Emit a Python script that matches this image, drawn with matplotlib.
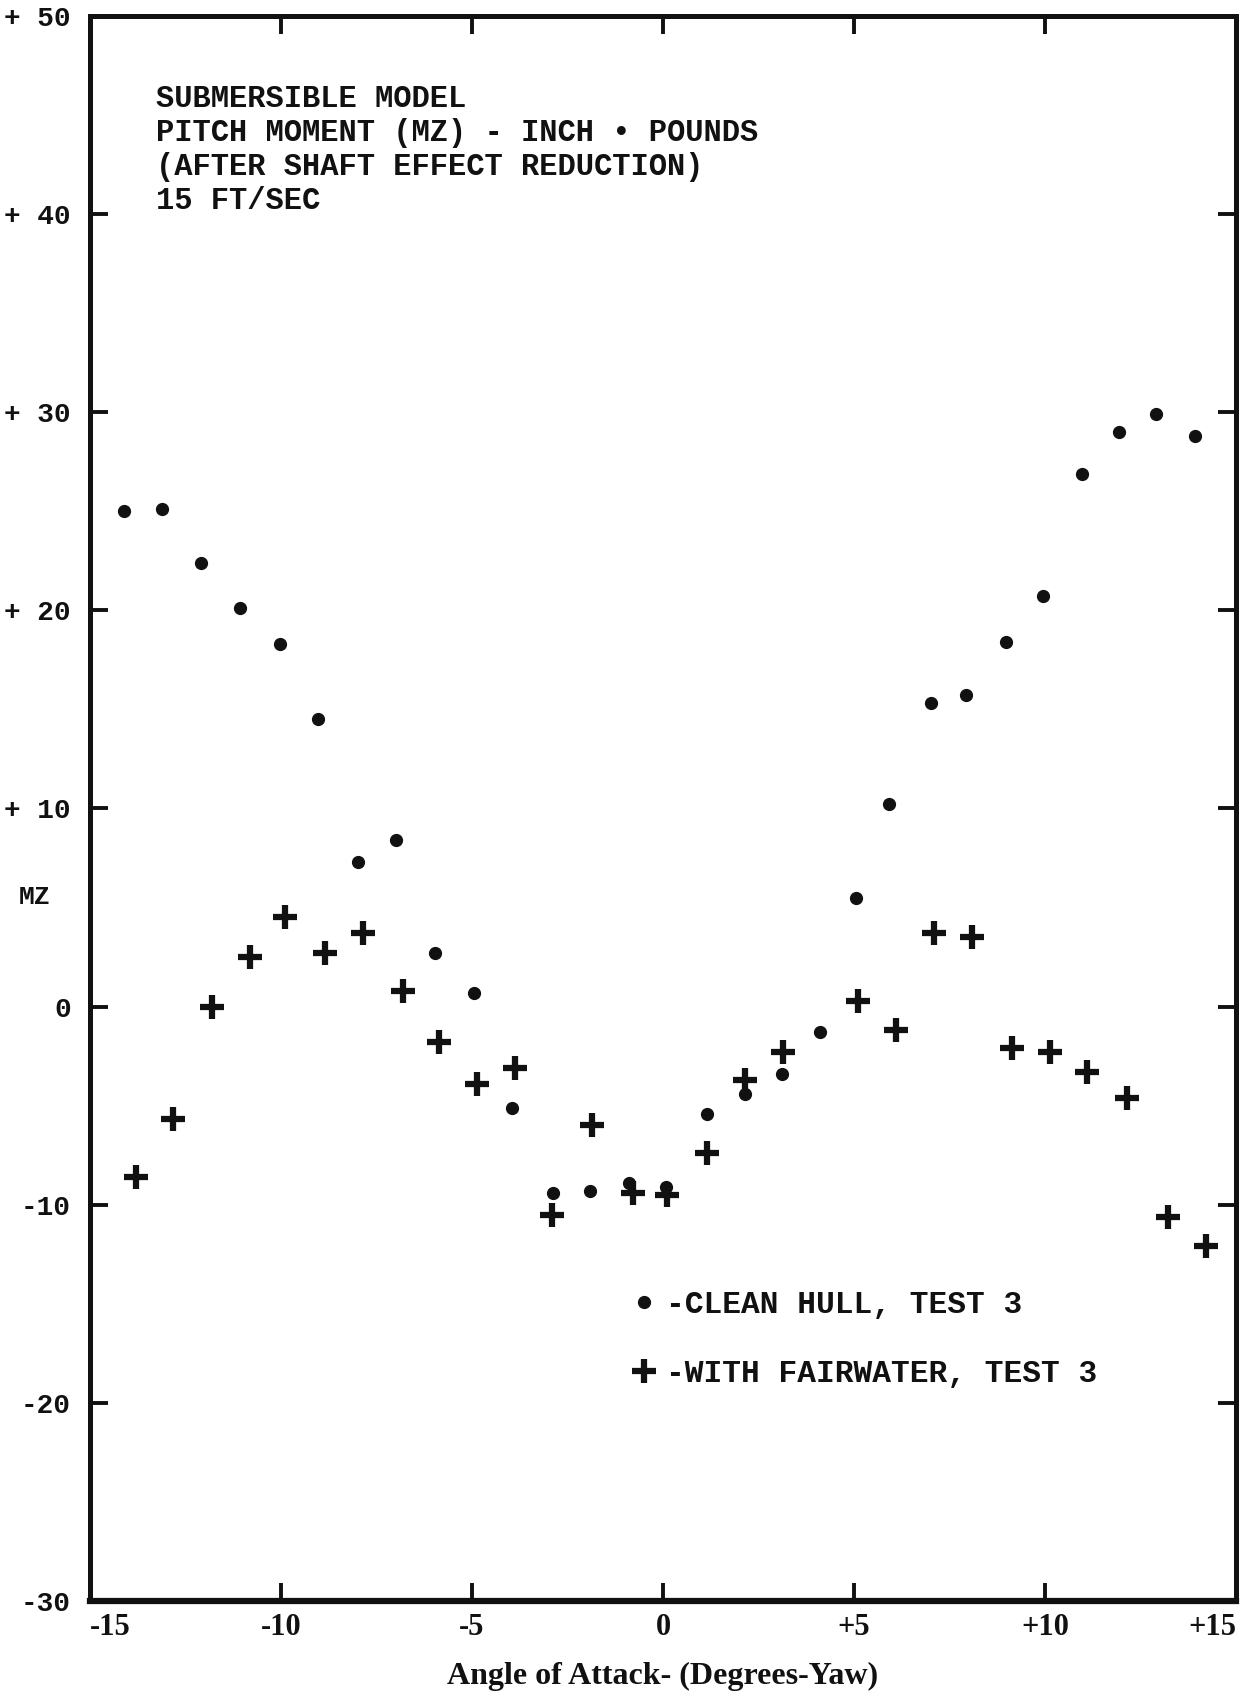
import matplotlib
matplotlib.use("Agg")
import matplotlib.pyplot as plt

# Clean hull, test 3 (dots)
clean_angle = [-14.10, -13.11, -12.09, -11.07, -10.03, -9.04, -7.99, -6.98,
               -5.96, -4.94, -3.95, -2.88, -1.92, -0.90, 0.08, 1.16, 2.15,
               3.11, 4.10, 5.06, 5.93, 7.01, 7.94, 8.98, 9.94, 10.96, 11.95,
               12.91, 13.93]
clean_mz = [25.0, 25.1, 22.4, 20.1, 18.3, 14.5, 7.3, 8.4, 2.7, 0.7, -5.1,
            -9.4, -9.3, -8.9, -9.1, -5.4, -4.4, -3.4, -1.3, 5.5, 10.2, 15.3,
            15.7, 18.4, 20.7, 26.9, 29.0, 29.9, 28.8]

# With fairwater, test 3 (crosses)
fair_angle = [-13.79, -12.82, -11.81, -10.82, -9.89, -8.84, -7.85, -6.81,
              -5.85, -4.86, -3.87, -2.90, -1.86, -0.79, 0.11, 1.16, 2.15,
              3.14, 5.11, 6.10, 7.09, 8.08, 9.15, 10.14, 11.10, 12.15, 13.22,
              14.21]
fair_mz = [-8.6, -5.7, 0.0, 2.5, 4.5, 2.7, 3.7, 0.8, -1.8, -3.9, -3.1, -10.5,
           -6.0, -9.4, -9.5, -7.4, -3.7, -2.3, 0.3, -1.2, 3.7, 3.5, -2.1,
           -2.3, -3.3, -4.6, -10.6, -12.1]

x_ticks = [-15, -10, -5, 0, 5, 10, 15]
x_labels = ["-15", "-10", "-5", "0", "+5", "+10", "+15"]
y_ticks = [-30, -20, -10, 0, 10, 20, 30, 40, 50]
y_labels = ["-30", "-20", "-10", "0", "+ 10", "+ 20", "+ 30", "+ 40", "+ 50"]

title_lines = ["SUBMERSIBLE MODEL",
               "PITCH MOMENT (MZ) - INCH \u2022 POUNDS",
               "(AFTER SHAFT EFFECT REDUCTION)",
               "15 FT/SEC"]

INK = "#111111"
MONO = ["Liberation Mono", "DejaVu Sans Mono"]
SERIF = ["Liberation Serif", "DejaVu Serif"]

fig = plt.figure(figsize=(12.53, 16.95), dpi=100)
ax = fig.add_axes([0.0718, 0.0555, 0.9146, 0.9351])

ax.plot(clean_angle, clean_mz, linestyle="none", marker="o", ms=8.5,
        color=INK, label="-CLEAN HULL, TEST 3")
ax.plot(fair_angle, fair_mz, linestyle="none", marker="+", ms=17, mew=4.5,
        color=INK, label="-WITH FAIRWATER, TEST 3")

ax.set_xlim(-15, 15)
ax.set_ylim(-30, 50)

for side, sp in ax.spines.items():
    sp.set_linewidth(3.6)
    sp.set_color(INK)
ax.spines["bottom"].set_linewidth(4.5)

ax.set_xticks(x_ticks, labels=x_labels)
ax.set_yticks(y_ticks, labels=y_labels)
ax.tick_params(direction="in", length=13, width=2.8, color=INK,
               top=True, right=True)
ax.tick_params(axis="x", pad=9)
ax.tick_params(axis="y", pad=14)
xtl = ax.get_xticklabels()
for lbl in xtl:
    lbl.set_family(SERIF)
    lbl.set_weight("bold")
    lbl.set_fontsize(22)
    lbl.set_color(INK)
xtl[0].set_ha("left")
xtl[-1].set_ha("right")
for lbl in ax.get_yticklabels():
    lbl.set_family(MONO)
    lbl.set_weight("bold")
    lbl.set_fontsize(20)
    lbl.set_color(INK)

ax.set_xlabel("Angle of Attack- (Degrees-Yaw)", family=SERIF,
              weight="bold", fontsize=23, color=INK, labelpad=14)
ax.set_ylabel("MZ", family=MONO, weight="bold", fontsize=19,
              color=INK, rotation=0, va="center", ha="center")
ax.yaxis.set_label_coords(-0.048, 0.444)

ax.text(0.058, 0.957, "\n".join(title_lines), transform=ax.transAxes,
        family=MONO, weight="bold", fontsize=22, color=INK,
        va="top", ha="left", linespacing=1.17)

leg = ax.legend(loc="center left", bbox_to_anchor=(0.47, 0.165),
                frameon=False, handlelength=1.0, handletextpad=0.2,
                labelspacing=1.25, borderpad=0, borderaxespad=0,
                prop={"family": MONO, "weight": "bold", "size": 22.5})
for t in leg.get_texts():
    t.set_color(INK)

fig.savefig("out.png", dpi=100, facecolor="white")
